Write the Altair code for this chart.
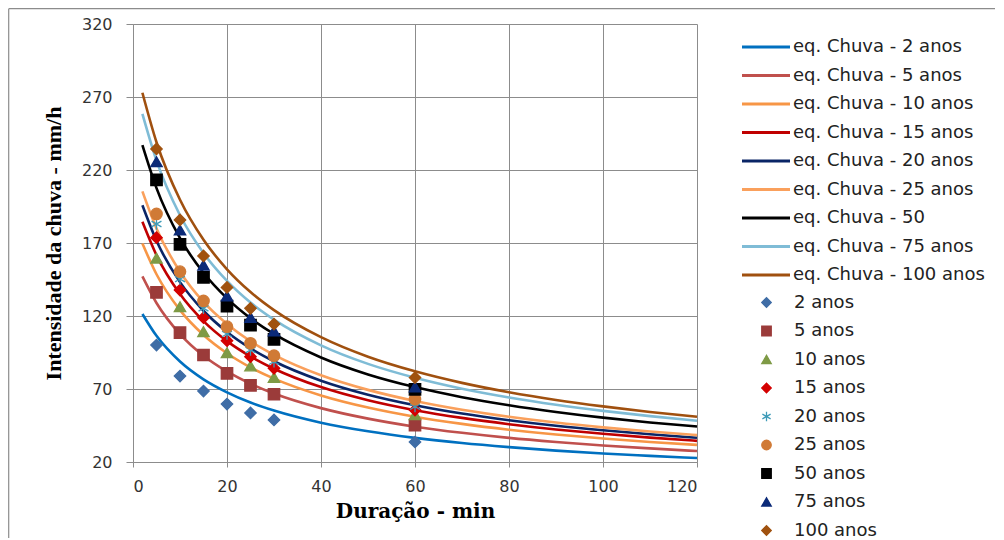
import altair as alt
import pandas as pd

# ---------------- data ----------------
dur_curve = [2, 5, 10, 15, 20, 25, 30, 40, 50, 60, 70, 80, 90, 100, 110, 120]

curve_names = ["eq. Chuva - 2 anos", "eq. Chuva - 5 anos", "eq. Chuva - 10 anos",
               "eq. Chuva - 15 anos", "eq. Chuva - 20 anos", "eq. Chuva - 25 anos",
               "eq. Chuva - 50", "eq. Chuva - 75 anos", "eq. Chuva - 100 anos"]

eq_2 = [121.4, 106.4, 88.8, 76.6, 67.7, 60.7, 55.2, 46.9, 41.0, 36.5, 33.0, 30.2, 27.8, 25.8, 24.2, 22.7]
eq_5 = [147.1, 128.9, 107.6, 92.8, 82.0, 73.6, 66.9, 56.9, 49.7, 44.2, 40.0, 36.5, 33.7, 31.3, 29.3, 27.5]
eq_10 = [169.6, 148.6, 124.0, 107.0, 94.5, 84.8, 77.1, 65.6, 57.3, 51.0, 46.1, 42.1, 38.8, 36.1, 33.7, 31.7]
eq_15 = [184.6, 161.7, 135.0, 116.5, 102.8, 92.3, 83.9, 71.3, 62.3, 55.5, 50.2, 45.9, 42.3, 39.3, 36.7, 34.5]
eq_20 = [195.8, 171.5, 143.2, 123.6, 109.1, 97.9, 89.0, 75.7, 66.1, 58.9, 53.2, 48.6, 44.8, 41.7, 39.0, 36.6]
eq_25 = [205.4, 180.0, 150.3, 129.6, 114.5, 102.7, 93.4, 79.4, 69.4, 61.8, 55.8, 51.0, 47.0, 43.7, 40.9, 38.4]
eq_50 = [237.0, 207.6, 173.3, 149.6, 132.1, 118.5, 107.7, 91.6, 80.0, 71.3, 64.4, 58.9, 54.3, 50.4, 47.1, 44.3]
eq_75 = [258.4, 226.4, 189.0, 163.1, 144.0, 129.2, 117.5, 99.9, 87.2, 77.7, 70.2, 64.2, 59.2, 55.0, 51.4, 48.3]
eq_100 = [272.9, 239.0, 199.6, 172.2, 152.0, 136.4, 124.0, 105.5, 92.1, 82.1, 74.2, 67.8, 62.5, 58.1, 54.3, 51.0]
curve_values = [eq_2, eq_5, eq_10, eq_15, eq_20, eq_25, eq_50, eq_75, eq_100]
curve_colors = ["#0070C0", "#C0504D", "#F79646", "#C00000", "#0A2566",
                "#FAA05C", "#000000", "#7FBCD6", "#A0500F"]

dur_obs = [5, 10, 15, 20, 25, 30, 60]
obs_names = ["2 anos", "5 anos", "10 anos", "15 anos", "20 anos", "25 anos",
             "50 anos", "75 anos", "100 anos"]
obs_2 = [100.1, 78.9, 68.6, 59.7, 53.6, 48.8, 33.7]
obs_5 = [136.2, 108.6, 93.3, 80.7, 72.5, 66.4, 45.3]
obs_10 = [159.6, 126.4, 109.3, 94.9, 85.8, 78.0, 52.5]
obs_15 = [173.6, 137.8, 118.8, 103.1, 92.1, 84.2, 55.6]
obs_20 = [183.0, 145.3, 125.3, 107.7, 96.7, 88.7, 57.9]
obs_25 = [189.9, 150.4, 130.3, 112.7, 101.3, 92.8, 63.0]
obs_50 = [213.2, 169.1, 146.5, 126.8, 113.8, 104.0, 69.8]
obs_75 = [225.7, 178.9, 154.9, 133.7, 119.1, 109.7, 71.5]
obs_100 = [234.4, 185.8, 161.1, 139.6, 125.3, 114.5, 77.8]
obs_values = [obs_2, obs_5, obs_10, obs_15, obs_20, obs_25, obs_50, obs_75, obs_100]
obs_colors = ["#3F6DA6", "#9B3B3A", "#7E9A45", "#D40000", "#3E9BB8",
              "#D07A36", "#000000", "#0B2A78", "#A0520F"]
asterisk = "M0,-1L0,1M-0.87,-0.5L0.87,0.5M-0.87,0.5L0.87,-0.5"
obs_shapes = ["diamond", "square", "triangle-up", "diamond", asterisk,
              "circle", "square", "triangle-up", "diamond"]

x_ticks = [0, 20, 40, 60, 80, 100, 120]
y_ticks = [20, 70, 120, 170, 220, 270, 320]

# ---------------- tables ----------------
line_rows = []
for k, (name, vals) in enumerate(zip(curve_names, curve_values)):
    for t, v in zip(dur_curve, vals):
        line_rows.append({"serie": name, "t": t, "i": v, "k": k})
df_lines = pd.DataFrame(line_rows)

obs_rows = []
for k, (name, vals) in enumerate(zip(obs_names, obs_values)):
    for t, v in zip(dur_obs, vals):
        obs_rows.append({"obs": name, "t": t, "i": v, "k": k})
df_obs = pd.DataFrame(obs_rows)

GRID = "#8C8C8C"

x_enc = alt.X("t:Q", scale=alt.Scale(domain=[0, 120], nice=False, zero=False),
              axis=alt.Axis(values=x_ticks, grid=True, gridColor=GRID, domainColor=GRID,
                            tickColor=GRID, tickSize=5, labelFont="DejaVu Sans",
                            labelFontSize=16, labelColor="#333333", labelPadding=11,
                            title="Duração - min", titleFont="DejaVu Serif",
                            titleFontWeight="bold", titleFontSize=20, titleColor="#000000",
                            titlePadding=7))
y_enc = alt.Y("i:Q", scale=alt.Scale(domain=[20, 320], nice=False, zero=False),
              axis=alt.Axis(values=y_ticks, grid=True, gridColor=GRID, domainColor=GRID,
                            tickColor=GRID, tickSize=7, labelFont="DejaVu Sans",
                            labelFontSize=16, labelColor="#333333", labelPadding=14,
                            title="Intensidade da chuva - mm/h", titleFont="Liberation Serif",
                            titleFontWeight="bold", titleFontSize=22, titleColor="#000000",
                            titlePadding=16))

line_legend = alt.Legend(orient="none", legendX=607.5, legendY=15, title=None,
                         symbolType="stroke", symbolSize=2304, symbolStrokeWidth=3,
                         clipHeight=16, rowPadding=10.5, labelFont="DejaVu Sans",
                         labelFontSize=18, labelColor="#222222", labelOffset=1.5,
                         padding=0, labelLimit=400)

lines = alt.Chart(df_lines).mark_line(strokeWidth=2.6, interpolate="monotone").encode(
    x=x_enc, y=y_enc,
    color=alt.Color("serie:N", scale=alt.Scale(domain=curve_names, range=curve_colors),
                    legend=line_legend),
)

def obs_legend():
    return alt.Legend(orient="none", legendX=624.5, legendY=270.5, title=None,
                      symbolSize=90, symbolStrokeWidth=1.3, clipHeight=16, rowPadding=10.5,
                      labelFont="DejaVu Sans", labelFontSize=18, labelColor="#222222",
                      labelOffset=18.5, padding=0, labelLimit=400)

points = alt.Chart(df_obs).mark_point(filled=True, size=130, strokeWidth=1.3, opacity=1).encode(
    x="t:Q", y="i:Q",
    fill=alt.Fill("obs:N", scale=alt.Scale(domain=obs_names, range=obs_colors), legend=obs_legend()),
    stroke=alt.Stroke("obs:N", scale=alt.Scale(domain=obs_names, range=obs_colors), legend=obs_legend()),
    shape=alt.Shape("obs:N", scale=alt.Scale(domain=obs_names, range=obs_shapes), legend=obs_legend()),
    order=alt.Order("k:Q"),
)

# outer chart-area frame (Excel chart border): left and top edges only
one = pd.DataFrame({"a": [0]})
frame_left = alt.Chart(one).mark_rule(color="#8C8C8C", strokeWidth=1.2).encode(
    x=alt.value(-124.3), y=alt.value(-15.3), y2=alt.value(520))
frame_top = alt.Chart(one).mark_rule(color="#8C8C8C", strokeWidth=1.2).encode(
    x=alt.value(-124.3), x2=alt.value(862), y=alt.value(-15.3))

chart = alt.layer(frame_left, frame_top, lines, points).resolve_scale(
    color="independent"
).properties(
    width=564, height=438,
    padding={"left": 125, "top": 16, "right": 299, "bottom": 76},
    autosize=alt.AutoSizeParams(type="none"),
    background="#FFFFFF",
).configure_view(stroke=None)

chart.save("out.html", embed_options={"renderer": "svg", "actions": False})
